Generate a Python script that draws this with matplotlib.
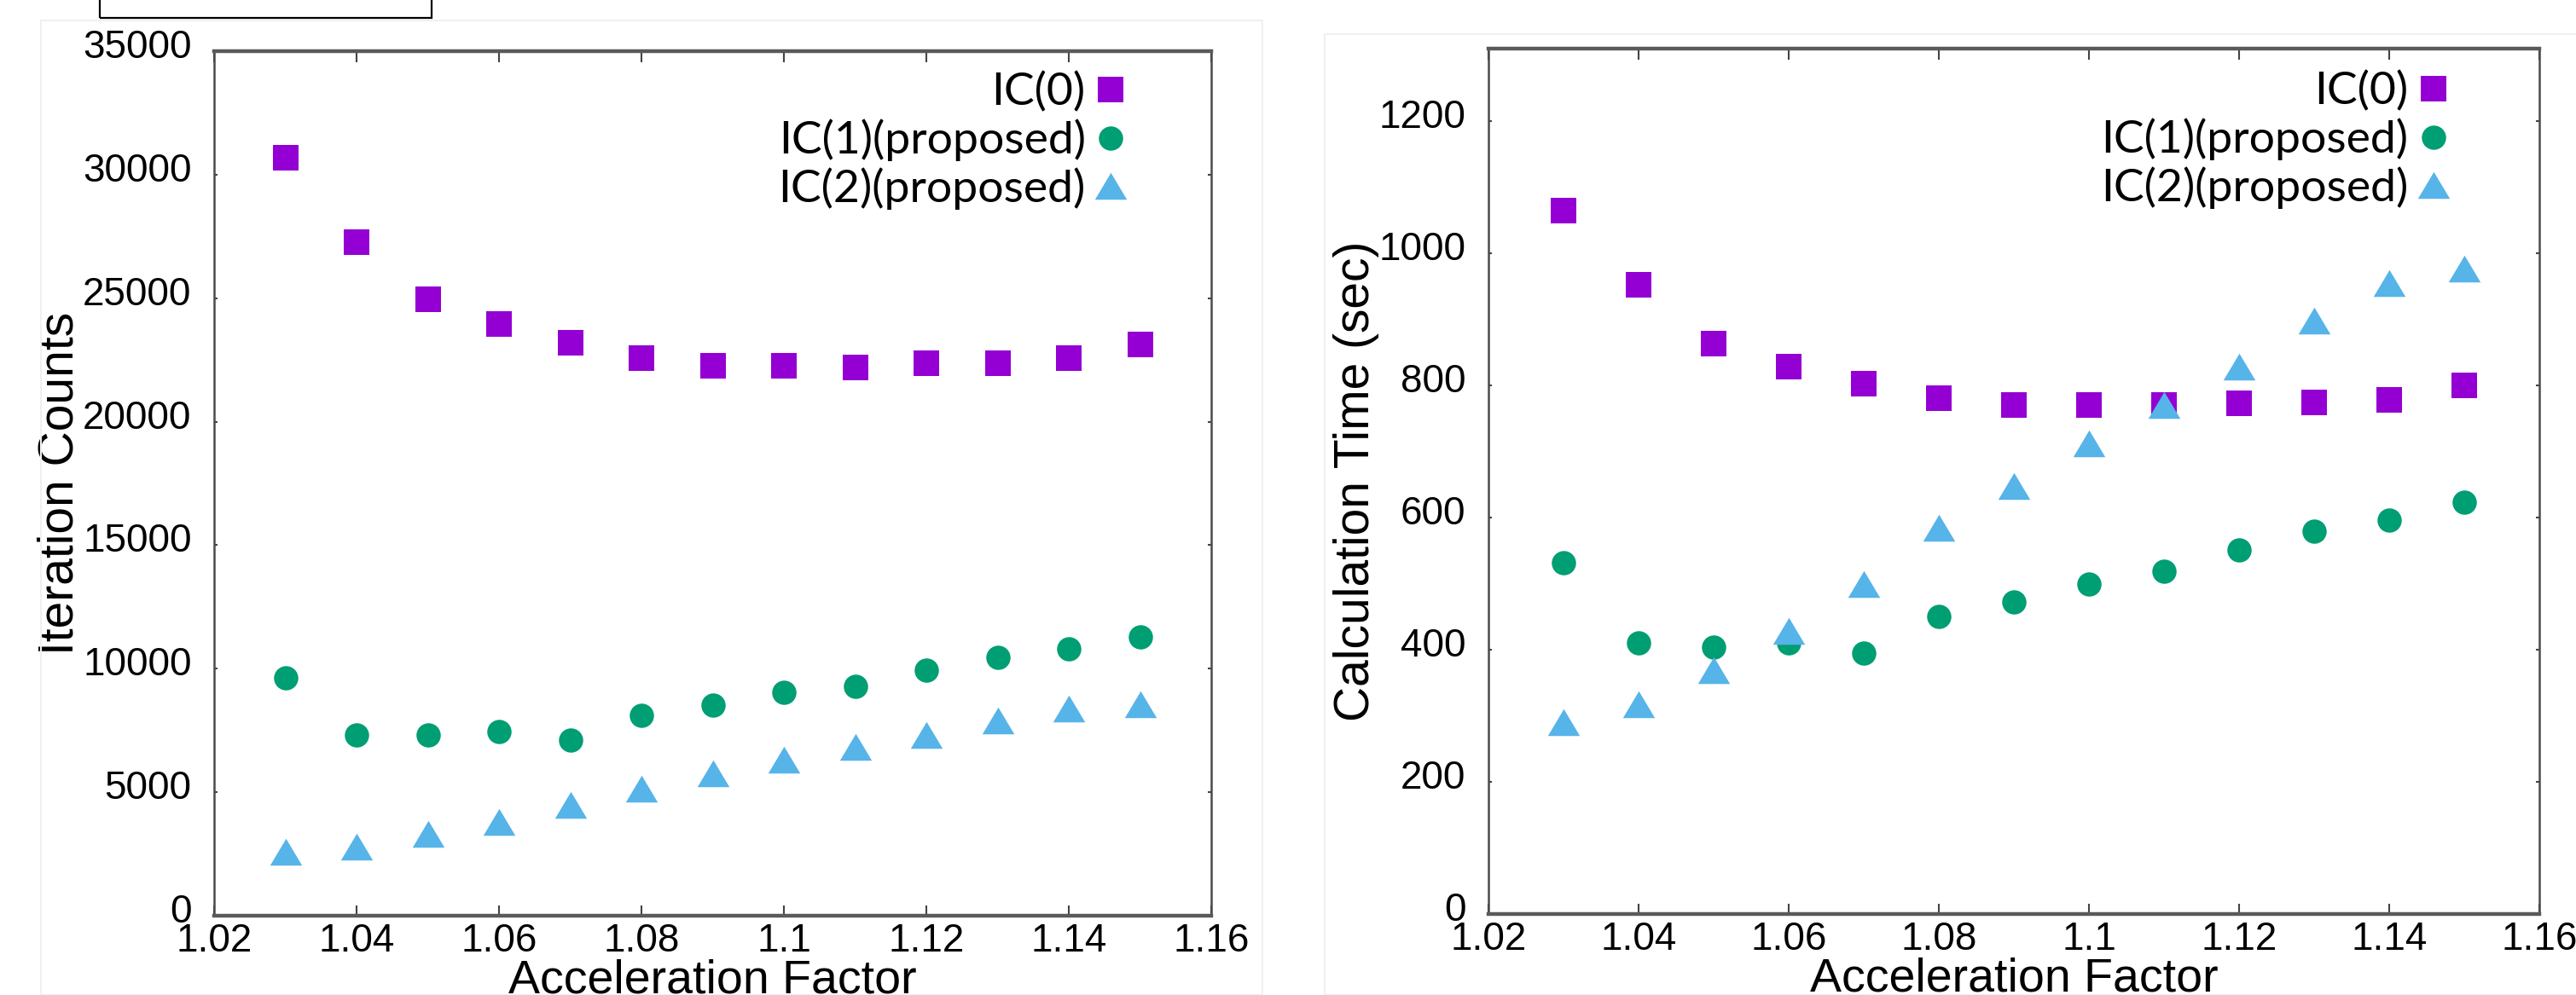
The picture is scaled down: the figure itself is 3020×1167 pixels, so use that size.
import matplotlib
matplotlib.use("Agg")
import matplotlib.pyplot as plt
from matplotlib.patches import Rectangle
import matplotlib.transforms as mtransforms

# ---------------- data ----------------
accel = [1.03, 1.04, 1.05, 1.06, 1.07, 1.08, 1.09, 1.10, 1.11, 1.12, 1.13, 1.14, 1.15]

iter_ic0 = [30700, 27270, 24950, 23970, 23180, 22590, 22250, 22250, 22190, 22380, 22380, 22580, 23120]
iter_ic1 = [9640, 7330, 7330, 7450, 7100, 8100, 8530, 9030, 9300, 9930, 10450, 10800, 11300]
iter_ic2 = [2600, 2790, 3300, 3790, 4470, 5150, 5760, 6320, 6820, 7330, 7900, 8400, 8570]

time_ic0 = [1065, 952, 864, 828, 803, 781, 770, 770, 770, 773, 775, 778, 800]
time_ic1 = [532, 410, 404, 410, 395, 450, 472, 500, 519, 551, 579, 596, 623]
time_ic2 = [290, 317, 369, 429, 500, 585, 648, 712, 771, 829, 898, 955, 977]

labels = ["IC(0)", "IC(1)(proposed)", "IC(2)(proposed)"]
colors = ["#9400D3", "#009E73", "#56B4E9"]

xticks = [1.02, 1.04, 1.06, 1.08, 1.10, 1.12, 1.14, 1.16]
xticklabels = ["1.02", "1.04", "1.06", "1.08", "1.1", "1.12", "1.14", "1.16"]
yticks_left = [0, 5000, 10000, 15000, 20000, 25000, 30000, 35000]
yticks_right = [0, 200, 400, 600, 800, 1000, 1200]

# ---------------- style ----------------
W, H = 3020, 1167
DPI = 100
fig = plt.figure(figsize=(W / DPI, H / DPI), dpi=DPI, facecolor="white")

TICKFONT = ["Liberation Sans", "DejaVu Sans"]
LEGFONT = ["Lato", "DejaVu Sans"]

tri = [(-1, -0.84), (1, -0.84), (0, 0.84)]
markers = ["s", "o", tri]
msizes = [21.5, 20.5, 27]


def px_axes(l, t, r, b):
    return fig.add_axes([l / W, 1 - b / H, (r - l) / W, (b - t) / H])


def style_axes(ax, ylim, yticks, xlabel, ylabel):
    ax.set_xlim(1.02, 1.16)
    ax.set_ylim(*ylim)
    ax.set_xticks(xticks)
    ax.set_xticklabels(xticklabels, family=TICKFONT, fontsize=33)
    ax.set_yticks(yticks)
    ax.set_yticklabels([str(v) for v in yticks], family=TICKFONT, fontsize=33)
    ax.tick_params(axis="x", direction="in", length=9, width=1.5, top=True,
                   pad=6, color="#444444")
    ax.tick_params(axis="y", direction="in", length=3, width=1.5, right=True,
                   pad=19, color="#444444")
    for s in ["top", "bottom"]:
        ax.spines[s].set_linewidth(3.2)
        ax.spines[s].set_color("#5a5a5a")
    for s in ["left", "right"]:
        ax.spines[s].set_linewidth(1.8)
        ax.spines[s].set_color("#4a4a4a")
    ax.set_xlabel(xlabel, family=TICKFONT, fontsize=40, labelpad=-1)
    ax.set_ylabel(ylabel, family=TICKFONT, fontsize=41, labelpad=0)
    off = mtransforms.ScaledTranslation(0, 9 / DPI, fig.dpi_scale_trans)
    for lab in ax.yaxis.get_majorticklabels():
        lab.set_transform(lab.get_transform() + off)


def draw_series(ax, series):
    handles = []
    for ys, lab, c, m, ms in zip(series, labels, colors, markers, msizes):
        h, = ax.plot(accel, ys, linestyle="none", marker=m, markersize=ms,
                     color=c, markeredgewidth=0, label=lab, clip_on=False)
        handles.append(h)
    return handles


# faint background frames
fig.add_artist(Rectangle((48 / W, 0), (1480 - 48) / W, 1 - 24 / H,
                         transform=fig.transFigure, fill=False,
                         edgecolor="#f0f0f0", linewidth=1.5))
fig.add_artist(Rectangle((1553 / W, 0), (3030 - 1553) / W, 1 - 40 / H,
                         transform=fig.transFigure, fill=False,
                         edgecolor="#f0f0f0", linewidth=1.5))

LEG_KW = dict(loc="upper right", frameon=False, markerfirst=False,
              handlelength=0.55, handletextpad=0.28, labelspacing=0.13,
              borderpad=0, borderaxespad=0,
              prop={"family": LEGFONT, "size": 38.5})

# ---------------- left panel ----------------
ax1 = px_axes(251, 60, 1420, 1074)
draw_series(ax1, [iter_ic0, iter_ic1, iter_ic2])
style_axes(ax1, (0, 35000), yticks_left, "Acceleration Factor", "Iteration Counts")
ax1.legend(bbox_to_anchor=(0.912, 0.976), **LEG_KW)

# ---------------- right panel ----------------
ax2 = px_axes(1745, 57, 2977, 1072)
draw_series(ax2, [time_ic0, time_ic1, time_ic2])
style_axes(ax2, (0, 1310), yticks_right, "Acceleration Factor", "Calculation Time (sec)")
ax2.legend(bbox_to_anchor=(0.911, 0.974), **LEG_KW)

# empty box at top-left
fig.add_artist(Rectangle((117 / W, 1 - 21 / H), (506 - 117) / W, 30 / H,
                         transform=fig.transFigure, fill=False,
                         edgecolor="black", linewidth=1.6))

fig.savefig("out.png", dpi=DPI, facecolor="white")
